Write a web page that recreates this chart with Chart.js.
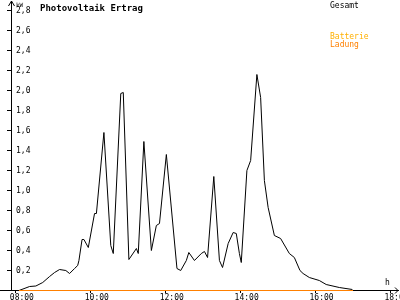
<!DOCTYPE html>
<html><head><meta charset="utf-8">
<script src="https://cdn.jsdelivr.net/npm/chart.js@4"></script>
<style>html,body{margin:0;padding:0;background:#fff}canvas{display:block}</style>
</head><body>
<canvas id="c" width="400" height="300"></canvas>
<script>
const chartTitle = "Photovoltaik Ertrag";
const yUnit = "kW";
const xUnit = "h";
const seriesNames = ["Gesamt", "Batterie", "Ladung"];
const seriesColors = ["#000000", "#ffb000", "#ff8000"];
const xTickLabels = ["08:00", "10:00", "12:00", "14:00", "16:00", "18:00"];
const yTickValues = [0.2, 0.4, 0.6, 0.8, 1.0, 1.2, 1.4, 1.6, 1.8, 2.0, 2.2, 2.4, 2.6, 2.8];

const gesamtTimes = ["08:05","08:22","08:32","08:43","08:54","09:02","09:10","09:20","09:26","09:34","09:39","09:41","09:46","09:49","09:56","10:06","10:09","10:21","10:32","10:36","10:48","10:52","11:01","11:13","11:16","11:25","11:37","11:45","11:50","12:01","12:18","12:24","12:33","12:37","12:46","12:57","13:02","13:07","13:17","13:26","13:31","13:40","13:48","13:53","13:58","14:01","14:10","14:16","14:26","14:32","14:38","14:44","14:54","15:04","15:18","15:26","15:35","15:40","15:50","16:06","16:17","16:38","16:59"];
const gesamtValues = [0.00,0.04,0.045,0.08,0.14,0.18,0.21,0.20,0.17,0.22,0.25,0.30,0.51,0.51,0.43,0.77,0.77,1.58,0.45,0.37,1.97,1.98,0.31,0.42,0.37,1.49,0.40,0.65,0.67,1.36,0.22,0.20,0.30,0.38,0.30,0.37,0.39,0.33,1.14,0.30,0.23,0.47,0.58,0.57,0.37,0.28,1.20,1.30,2.16,1.93,1.10,0.83,0.55,0.52,0.37,0.33,0.20,0.17,0.13,0.10,0.06,0.03,0.01];
const batterieTimes = [];
const batterieValues = [];
const ladungTimes = ["08:05", "17:00"];
const ladungValues = [0, 0];

const toH = s => parseInt(s.slice(0, 2), 10) + parseInt(s.slice(3), 10) / 60;
const pts = (t, v) => t.map((s, i) => ({x: toH(s), y: v[i]}));
const FONT = "'DejaVu Sans Mono', monospace";

const decor = {
  id: 'decor',
  afterDraw(chart) {
    const ctx = chart.ctx, a = chart.chartArea;
    ctx.save();
    ctx.strokeStyle = '#000'; ctx.lineWidth = 1;
    const xa = Math.round(a.left) + 0.5, yb = Math.round(a.bottom) + 0.5;
    ctx.beginPath();
    ctx.moveTo(xa - 3, a.top + 5); ctx.lineTo(xa, a.top); ctx.lineTo(xa + 3, a.top + 5);
    ctx.moveTo(0, yb); ctx.lineTo(a.left, yb);
    ctx.moveTo(a.right - 3, yb - 3); ctx.lineTo(a.right, yb); ctx.lineTo(a.right - 3, yb + 3);
    ctx.stroke();
    ctx.fillStyle = '#000';
    ctx.textBaseline = 'alphabetic'; ctx.textAlign = 'left';
    ctx.font = "bold 9px " + FONT;
    ctx.fillText(chartTitle, 40, 11);
    ctx.font = "6px " + FONT;
    ctx.fillText(yUnit, 16, 7);
    ctx.font = "8px " + FONT;
    ctx.fillText(xUnit, 385, 285);
    const ys = [8, 38.5, 46.5];
    chart.data.datasets.forEach((d, i) => {
      ctx.fillStyle = d.borderColor;
      ctx.fillText(d.label, 330, ys[i]);
    });
    ctx.restore();
  }
};

new Chart(document.getElementById('c'), {
  type: 'line',
  data: {
    datasets: [
      {label: seriesNames[0], data: pts(gesamtTimes, gesamtValues), borderColor: seriesColors[0], borderWidth: 1, pointRadius: 0, tension: 0, order: 2, clip: false},
      {label: seriesNames[1], data: pts(batterieTimes, batterieValues), borderColor: seriesColors[1], borderWidth: 1, pointRadius: 0, tension: 0, order: 1, clip: false},
      {label: seriesNames[2], data: pts(ladungTimes, ladungValues), borderColor: seriesColors[2], borderWidth: 1, pointRadius: 0, tension: 0, order: 0, clip: false}
    ]
  },
  options: {
    responsive: false,
    animation: false,
    layout: {padding: {left: 7, right: 2, top: 1, bottom: 0}},
    plugins: {legend: {display: false}, tooltip: {enabled: false}, title: {display: false}},
    scales: {
      x: {
        type: 'linear', min: 7.87, max: 18.2,
        afterBuildTicks: s => { s.ticks = xTickLabels.map(l => ({value: toH(l)})); },
        afterFit: s => { s.height = 10; s.paddingLeft = 0; s.paddingRight = 0; },
        grid: {drawOnChartArea: false, drawTicks: true, tickLength: 3, color: '#000'},
        border: {color: '#000'},
        ticks: {
          color: '#000', font: {family: FONT, size: 8}, padding: 0, labelOffset: 6,
          maxRotation: 0, autoSkip: false,
          callback: v => xTickLabels.find(l => Math.abs(toH(l) - v) < 1e-6) || ''
        }
      },
      y: {
        type: 'linear', min: 0.005, max: 2.895,
        afterBuildTicks: s => { s.ticks = yTickValues.map(v => ({value: v})); },
        afterFit: s => { s.width = 4; s.paddingTop = 0; s.paddingBottom = 0; },
        grid: {drawOnChartArea: false, drawTicks: true, tickLength: 4, color: '#000'},
        border: {color: '#000'},
        ticks: {
          color: '#000', font: {family: FONT, size: 8}, mirror: true, padding: 5,
          autoSkip: false,
          callback: v => v.toFixed(1).replace('.', ',')
        }
      }
    }
  },
  plugins: [decor]
});
</script>
</body></html>
